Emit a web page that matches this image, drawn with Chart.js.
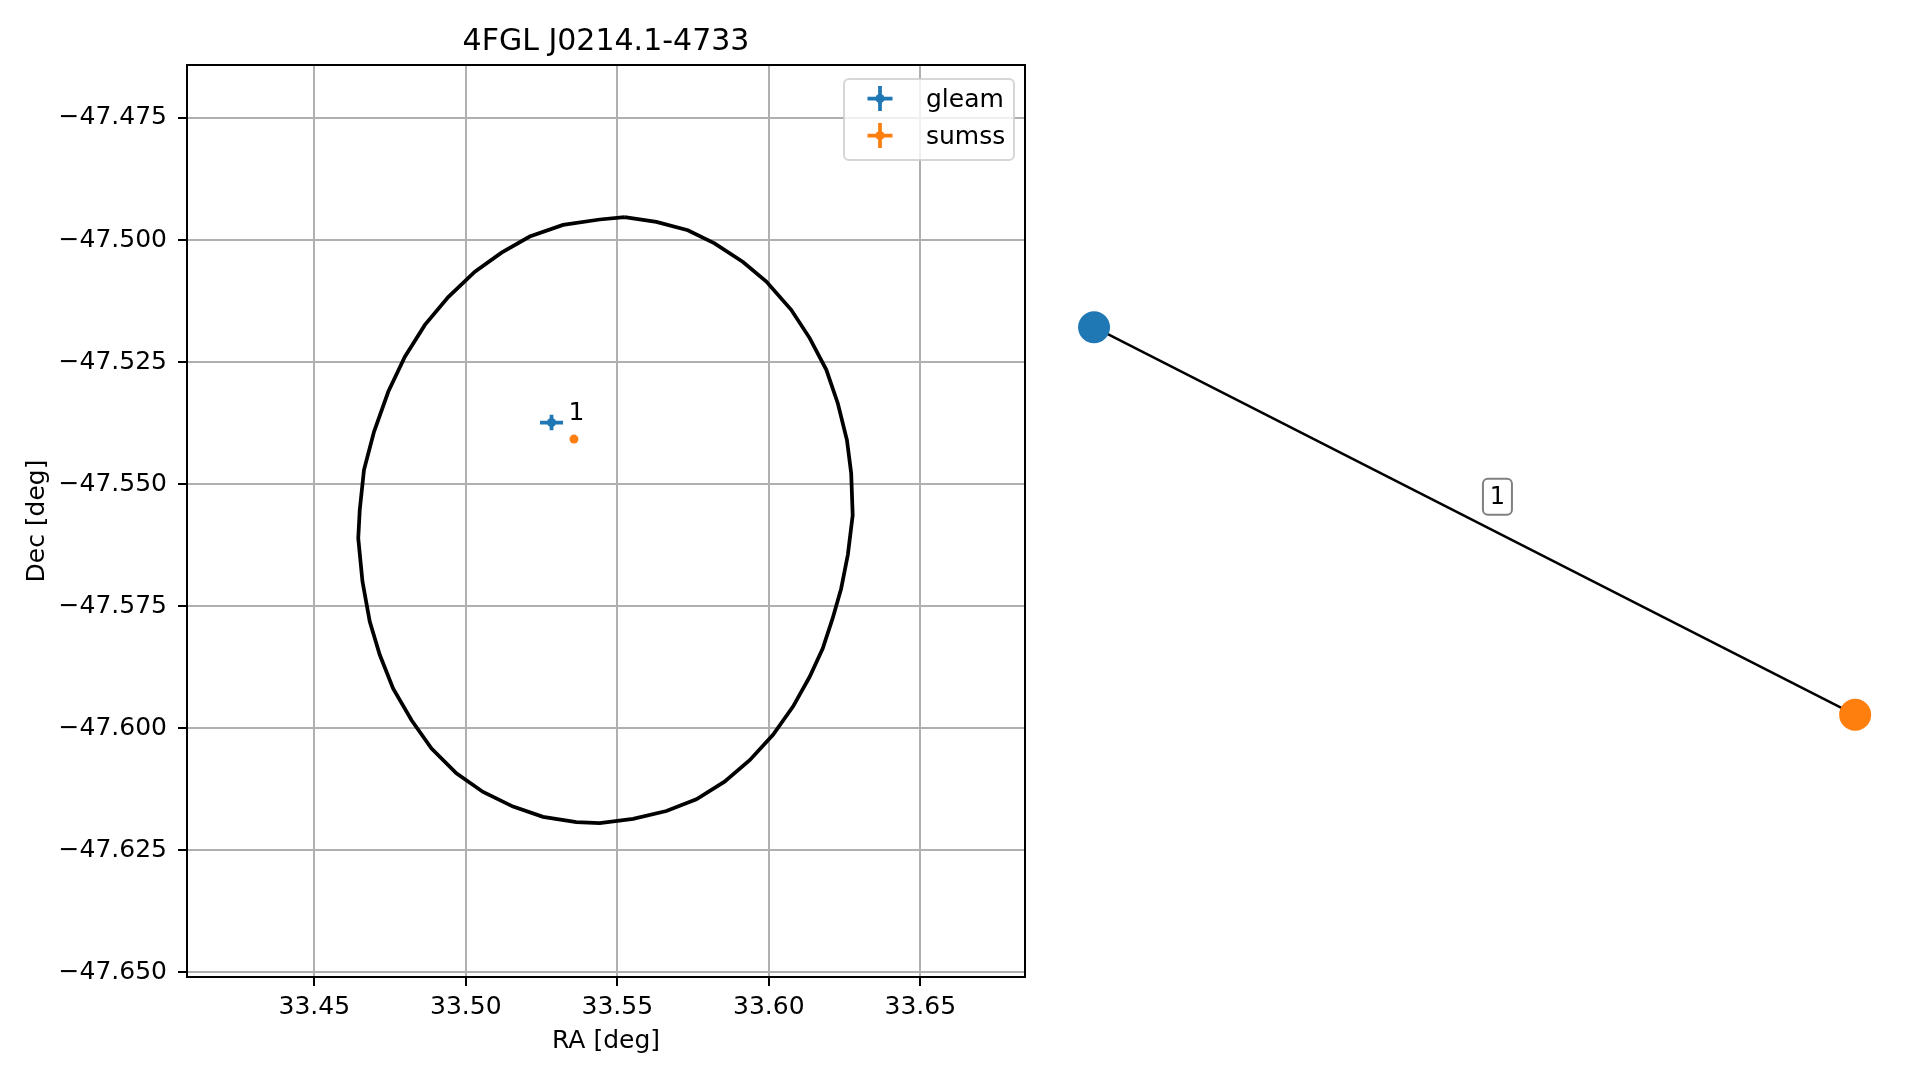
<!DOCTYPE html>
<html>
<head>
<meta charset="utf-8">
<title>4FGL J0214.1-4733</title>
<script src="https://cdn.jsdelivr.net/npm/chart.js@4.4.1/dist/chart.umd.min.js"></script>
<style>
  body { margin: 0; background: #fff; }
  #wrap { position: relative; width: 1919px; height: 1080px; }
  canvas { position: absolute; top: 0; }
  #sky { left: 0; }
  #graph { left: 1040px; }
</style>
</head>
<body>
<div id="wrap">
  <canvas id="sky" width="1040" height="1080"></canvas>
  <canvas id="graph" width="879" height="1080"></canvas>
</div>
<script>
var chartTitle = '4FGL J0214.1-4733';
var xTicks = [33.45, 33.50, 33.55, 33.60, 33.65];
var yTicks = [-47.475, -47.500, -47.525, -47.550, -47.575, -47.600, -47.625, -47.650];

// 4FGL error ellipse
var ellipseRA = [33.5524, 33.5629, 33.5733, 33.5821, 33.5915, 33.5992, 33.6074, 33.6135, 33.6190, 33.6228,
  33.6258, 33.6272, 33.6277, 33.6261, 33.6239, 33.6211, 33.6178, 33.6135, 33.6080, 33.6014,
  33.5937, 33.5854, 33.5761, 33.5662, 33.5552, 33.5442, 33.5365, 33.5255, 33.5156, 33.5057,
  33.4969, 33.4887, 33.4821, 33.4760, 33.4716, 33.4683, 33.4659, 33.4645, 33.4650, 33.4664,
  33.4697, 33.4744, 33.4799, 33.4865, 33.4942, 33.5030, 33.5118, 33.5211, 33.5321, 33.5442, 33.5524];
var ellipseDec = [-47.4953, -47.4963, -47.4980, -47.5007, -47.5045, -47.5085, -47.5143, -47.5201, -47.5266, -47.5335,
  -47.5410, -47.5478, -47.5564, -47.5645, -47.5714, -47.5775, -47.5837, -47.5895, -47.5956, -47.6014,
  -47.6066, -47.6110, -47.6146, -47.6170, -47.6186, -47.6195, -47.6193, -47.6182, -47.6161, -47.6131,
  -47.6093, -47.6042, -47.5984, -47.5919, -47.5850, -47.5782, -47.5700, -47.5611, -47.5553, -47.5471,
  -47.5393, -47.5311, -47.5239, -47.5174, -47.5117, -47.5065, -47.5026, -47.4993, -47.4969, -47.4958, -47.4953];

var srcNames = ['gleam', 'sumss'];
var srcColors = ['#1f77b4', '#ff7f0e'];
var srcRA = [33.5283, 33.5357];
var srcDec = [-47.5374, -47.5408];
var srcErrRA = [0.0038, 0];
var srcErrDec = [0.0016, 0];

var matchIds = ['1'];
var matchRA = [33.5365];
var matchDec = [-47.5355];

// match graph (layout coordinates)
var nodeX = [-1.0, 1.0];
var nodeY = [0.425, -0.425];
var edgeLabels = ['1'];
var edgeLabelX = [0.06];
var edgeLabelY = [0.053];

var FONT = "'DejaVu Sans', sans-serif";
Chart.defaults.font.family = FONT;
Chart.defaults.color = '#000';

var spinePlugin = {
	id: 'spines',
	afterDatasetsDraw: function (chart) {
		var a = chart.chartArea, ctx = chart.ctx;
		ctx.save();
		ctx.strokeStyle = '#000';
		ctx.lineWidth = 2;
		ctx.strokeRect(a.left, a.top, a.right - a.left, a.bottom - a.top);
		ctx.restore();
	}
};

var errorBarPlugin = {
	id: 'errorBars',
	beforeDatasetsDraw: function (chart) {
		var ctx = chart.ctx, xs = chart.scales.x, ys = chart.scales.y;
		ctx.save();
		ctx.lineWidth = 3.75;
		for (var i = 0; i < srcNames.length; i++) {
			var x0 = xs.getPixelForValue(srcRA[i] - srcErrRA[i]);
			var x1 = xs.getPixelForValue(srcRA[i] + srcErrRA[i]);
			var y0 = ys.getPixelForValue(srcDec[i] - srcErrDec[i]);
			var y1 = ys.getPixelForValue(srcDec[i] + srcErrDec[i]);
			var cx = xs.getPixelForValue(srcRA[i]);
			var cy = ys.getPixelForValue(srcDec[i]);
			ctx.strokeStyle = srcColors[i];
			ctx.beginPath();
			ctx.moveTo(x0, cy); ctx.lineTo(x1, cy);
			ctx.moveTo(cx, y0); ctx.lineTo(cx, y1);
			ctx.stroke();
		}
		ctx.restore();
	},
	afterDatasetsDraw: function (chart) {
		var ctx = chart.ctx, xs = chart.scales.x, ys = chart.scales.y;
		ctx.save();
		ctx.fillStyle = '#000';
		ctx.font = '25px ' + FONT;
		ctx.textAlign = 'center';
		ctx.textBaseline = 'middle';
		for (var i = 0; i < matchIds.length; i++) {
			ctx.fillText(matchIds[i], xs.getPixelForValue(matchRA[i]), ys.getPixelForValue(matchDec[i]));
		}
		ctx.restore();
	}
};

var legendPlugin = {
	id: 'srcLegend',
	afterDraw: function (chart) {
		var ctx = chart.ctx;
		ctx.save();
		ctx.beginPath();
		ctx.roundRect(844, 79, 170, 81, 5);
		ctx.fillStyle = 'rgba(255,255,255,0.8)';
		ctx.fill();
		ctx.strokeStyle = 'rgba(204,204,204,0.8)';
		ctx.lineWidth = 2;
		ctx.stroke();
		for (var i = 0; i < srcNames.length; i++) {
			var cx = 880, cy = 98.5 + i * 37;
			ctx.strokeStyle = srcColors[i];
			ctx.lineWidth = 3.75;
			ctx.beginPath();
			ctx.moveTo(cx - 12.5, cy); ctx.lineTo(cx + 12.5, cy);
			ctx.moveTo(cx, cy - 12.5); ctx.lineTo(cx, cy + 12.5);
			ctx.stroke();
			ctx.fillStyle = srcColors[i];
			ctx.beginPath();
			ctx.arc(cx, cy, 4.5, 0, 2 * Math.PI);
			ctx.fill();
			ctx.fillStyle = '#000';
			ctx.font = '25px ' + FONT;
			ctx.textBaseline = 'middle';
			ctx.fillText(srcNames[i], 926, cy + 2);
		}
		ctx.restore();
	}
};

var srcDatasets = srcNames.map(function (name, i) {
	return {
		label: name,
		data: [{x: srcRA[i], y: srcDec[i]}],
		pointRadius: 4.5,
		pointBackgroundColor: srcColors[i],
		pointBorderWidth: 0
	};
});

var ellipseData = ellipseRA.map(function (ra, i) { return {x: ra, y: ellipseDec[i]}; });

new Chart(document.getElementById('sky').getContext('2d'), {
	type: 'scatter',
	data: {
		datasets: srcDatasets.concat([{
			label: 'ellipse',
			data: ellipseData,
			showLine: true,
			borderColor: '#000',
			borderWidth: 3.75,
			pointRadius: 0,
			tension: 0
		}])
	},
	options: {
		responsive: false,
		animation: false,
		layout: { padding: { left: 0, right: 15, top: 0, bottom: 24 } },
		plugins: {
			legend: { display: false },
			tooltip: { enabled: false },
			title: {
				display: true,
				text: chartTitle,
				fullSize: false,
				font: { size: 30, weight: 'normal' },
				padding: { top: 24, bottom: 5 },
				color: '#000'
			}
		},
		scales: {
			x: {
				type: 'linear',
				min: 33.40798,
				max: 33.68457,
				afterBuildTicks: function (scale) {
					scale.ticks = xTicks.map(function (v) { return {value: v}; });
				},
				afterFit: function (scale) { scale.height = 79; },
				ticks: {
					font: { size: 25 },
					padding: 6,
					maxRotation: 0,
					callback: function (v) { return Number(v).toFixed(2); }
				},
				grid: { color: '#b0b0b0', lineWidth: 2, tickColor: '#000', tickWidth: 2, tickLength: 9 },
				border: { display: false },
				title: { display: true, text: 'RA [deg]', font: { size: 25 }, padding: { top: 0, bottom: 0 } }
			},
			y: {
				type: 'linear',
				min: -47.65102,
				max: -47.46414,
				afterBuildTicks: function (scale) {
					scale.ticks = yTicks.map(function (v) { return {value: v}; });
				},
				afterFit: function (scale) { scale.width = 187; },
				ticks: {
					font: { size: 25 },
					padding: 11,
					callback: function (v) { return '\u2212' + Math.abs(v).toFixed(3); }
				},
				grid: { color: '#b0b0b0', lineWidth: 2, tickColor: '#000', tickWidth: 2, tickLength: 9 },
				border: { display: false },
				title: { display: true, text: 'Dec [deg]', font: { size: 25 }, padding: { top: 22, bottom: 0 } }
			}
		}
	},
	plugins: [errorBarPlugin, spinePlugin, legendPlugin]
});

var edgeLabelPlugin = {
	id: 'edgeLabels',
	afterDatasetsDraw: function (chart) {
		var ctx = chart.ctx, xs = chart.scales.x, ys = chart.scales.y;
		ctx.save();
		for (var i = 0; i < edgeLabels.length; i++) {
			var cx = xs.getPixelForValue(edgeLabelX[i]);
			var cy = ys.getPixelForValue(edgeLabelY[i]);
			ctx.beginPath();
			ctx.roundRect(cx - 14.5, cy - 18, 29, 36, 5);
			ctx.fillStyle = '#fff';
			ctx.fill();
			ctx.strokeStyle = '#808080';
			ctx.lineWidth = 2;
			ctx.stroke();
			ctx.fillStyle = '#000';
			ctx.font = '24px ' + FONT;
			ctx.textAlign = 'center';
			ctx.textBaseline = 'middle';
			ctx.fillText(edgeLabels[i], cx, cy + 1);
		}
		ctx.restore();
	}
};

new Chart(document.getElementById('graph').getContext('2d'), {
	type: 'scatter',
	data: {
		datasets: [{
			label: 'nodes',
			data: nodeX.map(function (x, i) { return {x: x, y: nodeY[i]}; }),
			pointRadius: 16,
			pointBackgroundColor: srcColors,
			pointBorderWidth: 0,
			clip: false
		}, {
			label: 'edge',
			data: [{x: nodeX[0], y: nodeY[0]}, {x: nodeX[1], y: nodeY[1]}],
			showLine: true,
			borderColor: '#000',
			borderWidth: 2.5,
			pointRadius: 0,
			clip: false
		}]
	},
	options: {
		responsive: false,
		animation: false,
		layout: { padding: { left: 13.5, right: 25.8, top: 65, bottom: 103 } },
		plugins: { legend: { display: false }, tooltip: { enabled: false } },
		scales: {
			x: { type: 'linear', display: false, min: -1.1, max: 1.1 },
			y: { type: 'linear', display: false, min: -1, max: 1 }
		}
	},
	plugins: [edgeLabelPlugin]
});
</script>
</body>
</html>
